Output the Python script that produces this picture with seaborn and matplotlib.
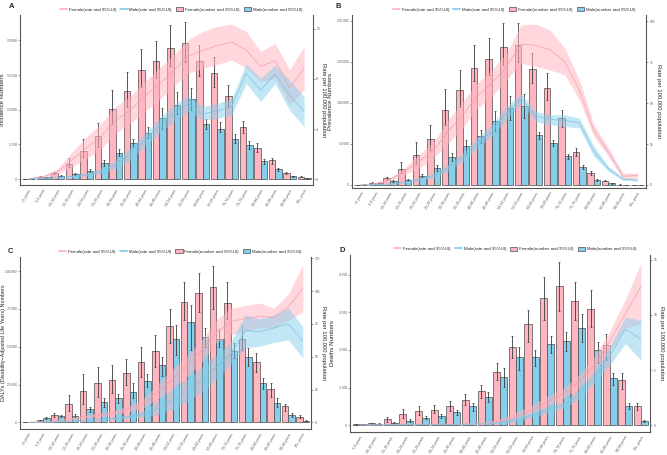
import numpy as np
import pandas as pd
import matplotlib
matplotlib.use("Agg")
import matplotlib.pyplot as plt
import seaborn as sns
from matplotlib.lines import Line2D
from matplotlib.patches import Patch
from matplotlib.ticker import FuncFormatter

# 연령 구간
ages = ["<5 years", "5-9 years", "10-14 years", "15-19 years", "20-24 years", "25-29 years",
        "30-34 years", "35-39 years", "40-44 years", "45-49 years", "50-54 years", "55-59 years",
        "60-64 years", "65-69 years", "70-74 years", "75-79 years", "80-84 years", "85-89 years",
        "90-94 years", "95+ years"]
ages_d = ages[1:]

# A. Incidence
inc_f = [50, 350, 900, 2150, 4000, 6150, 10050, 12750, 15700, 17000, 18850, 19600, 17000, 15250, 11950, 7500, 4560, 2700, 960, 380]
inc_f_lo = [20, 250, 750, 1800, 3150, 4650, 8000, 10450, 13350, 14550, 16350, 16850, 14850, 13350, 10400, 6600, 3950, 2200, 800, 250]
inc_f_hi = [90, 480, 1100, 3100, 5750, 8050, 12850, 15500, 18750, 19900, 22200, 22650, 19400, 17650, 13550, 8450, 5150, 3100, 1100, 500]
inc_m = [30, 290, 530, 770, 1250, 2300, 3750, 5250, 6700, 8850, 10750, 11500, 7900, 7300, 5850, 4950, 2600, 1440, 430, 100]
inc_m_lo = [10, 220, 430, 640, 1050, 1900, 3300, 4650, 6000, 7300, 9450, 9950, 7200, 6800, 5250, 4400, 2250, 1250, 360, 70]
inc_m_hi = [60, 380, 650, 920, 1480, 2750, 4300, 5850, 7550, 10200, 12500, 13100, 8600, 8200, 6450, 5550, 2950, 1650, 520, 140]
inc_rf = [0.05, 0.2, 0.6, 1.55, 2.5, 3.45, 4.7, 5.5, 6.6, 7.6, 8.65, 9.8, 10.3, 10.65, 10.95, 10.3, 9.0, 9.45, 7.3, 8.85]
inc_rf_lo = [0.02, 0.12, 0.4, 0.99, 1.65, 2.45, 3.65, 4.45, 5.39, 6.32, 7.39, 8.45, 8.85, 9.15, 9.52, 8.85, 7.79, 8.05, 5.92, 7.12]
inc_rf_hi = [0.09, 0.3, 0.85, 2.19, 3.39, 4.45, 5.79, 6.59, 7.79, 8.85, 9.92, 11.12, 11.79, 12.19, 12.37, 11.79, 10.19, 10.85, 8.72, 10.59]
inc_rm = [0.03, 0.08, 0.15, 0.22, 0.35, 0.65, 1.2, 2.0, 3.1, 4.25, 5.25, 6.05, 5.2, 5.45, 5.8, 8.45, 7.1, 8.4, 6.7, 5.4]
inc_rm_lo = [0.01, 0.05, 0.1, 0.15, 0.25, 0.45, 0.85, 1.5, 2.6, 3.65, 4.6, 5.4, 4.7, 4.85, 5.1, 7.65, 6.2, 7.65, 5.5, 4.2]
inc_rm_hi = [0.05, 0.12, 0.2, 0.3, 0.5, 0.85, 1.5, 2.45, 3.65, 4.85, 5.9, 6.7, 5.8, 6.05, 6.45, 9.2, 8.05, 9.1, 7.9, 6.6]

# B. Prevalence
prev_f = [300, 2800, 8100, 19400, 36400, 55500, 91100, 115800, 142100, 153000, 167600, 170400, 140900, 117800, 81400, 40100, 14600, 5300, 400, 100]
prev_f_lo = [150, 2000, 6500, 14200, 25100, 42900, 73300, 94700, 127100, 134000, 146200, 150200, 123900, 103600, 70000, 35600, 12600, 4300, 250, 50]
prev_f_hi = [450, 4000, 9800, 27900, 51800, 72900, 116600, 140100, 170000, 178500, 196800, 196800, 161100, 136000, 91500, 44900, 16600, 6400, 550, 150]
prev_m = [100, 2400, 4500, 6100, 11300, 20600, 34000, 47400, 59500, 77700, 93500, 96000, 60700, 50600, 34800, 21900, 6500, 2000, 100, 50]
prev_m_lo = [50, 1800, 3700, 5100, 9300, 17000, 28700, 38100, 51000, 65200, 78500, 81400, 55900, 47000, 31600, 19800, 4500, 1500, 50, 20]
prev_m_hi = [150, 3000, 5400, 7200, 13800, 24700, 38900, 54300, 66400, 89500, 107700, 110500, 64800, 54300, 37700, 23900, 7300, 2500, 200, 80]
prev_rf = [0.1, 0.8, 3.4, 8.3, 14.4, 21.5, 32.7, 42.9, 54.6, 62.2, 72.4, 86.0, 85.4, 82.5, 75.4, 58.0, 33.2, 20.0, 5.3, 5.8]
prev_rf_lo = [0.0, 0.5, 2.3, 6.3, 10.4, 16.5, 25.6, 34.8, 47.0, 54.1, 64.2, 74.4, 72.4, 70.3, 67.3, 52.0, 29.7, 17.5, 3.3, 4.3]
prev_rf_hi = [0.2, 1.2, 4.5, 10.4, 18.5, 26.6, 39.8, 51.0, 62.2, 70.3, 80.5, 97.8, 98.4, 94.7, 83.5, 64.2, 36.8, 22.6, 7.3, 7.3]
prev_rm = [0.05, 0.2, 0.6, 1.7, 3.2, 5.8, 10.4, 17.0, 25.6, 33.0, 44.0, 53.0, 42.0, 40.0, 39.5, 38.0, 20.5, 9.8, 3.5, 3.0]
prev_rm_lo = [0.0, 0.1, 0.3, 1.2, 2.2, 4.3, 8.3, 14.4, 22.6, 29.7, 39.8, 50.0, 38.8, 36.8, 35.8, 34.8, 17.5, 8.3, 2.8, 2.2]
prev_rm_hi = [0.1, 0.4, 0.9, 2.2, 4.3, 7.3, 12.4, 19.5, 28.7, 36.8, 48.0, 56.0, 45.0, 42.9, 42.9, 40.9, 23.6, 11.4, 4.3, 3.7]

# C. DALYs
daly_f = [200, 1300, 4800, 12100, 20700, 25800, 28000, 32400, 39600, 47400, 63700, 79500, 85500, 89200, 79100, 55300, 40100, 21800, 10800, 3700]
daly_f_lo = [100, 800, 3300, 7700, 12100, 17000, 19200, 24700, 30200, 36800, 52600, 67600, 73100, 74700, 68100, 47800, 33500, 17000, 7700, 2900]
daly_f_hi = [300, 1900, 6400, 18000, 31900, 36800, 37700, 41900, 49600, 57700, 74900, 92500, 98500, 103300, 92500, 63700, 45600, 25800, 12100, 5100]
daly_m = [100, 2600, 4200, 4400, 8800, 13200, 15900, 20300, 27300, 37900, 55100, 66100, 56200, 55300, 47400, 43400, 25800, 13000, 4800, 900]
daly_m_lo = [50, 2000, 3300, 3300, 7000, 10400, 12600, 15900, 23600, 30600, 44500, 47800, 49600, 49600, 42300, 37200, 21800, 10400, 3700, 400]
daly_m_hi = [150, 3300, 5100, 5500, 10400, 16100, 18700, 25800, 31900, 42900, 64300, 77500, 62100, 61500, 52200, 48900, 29100, 16300, 5900, 1300]
daly_rf = [0.1, 0.4, 1.2, 2.8, 4.5, 5.8, 7.5, 10.5, 15.0, 24.0, 33.0, 43.0, 55.0, 68.0, 77.0, 79.0, 81.0, 80.0, 88.0, 102.0]
daly_rf_lo = [0.05, 0.2, 0.8, 2.0, 3.3, 4.4, 5.8, 8.2, 11.5, 18.0, 26.0, 35.0, 46.0, 61.0, 67.0, 69.0, 72.0, 72.0, 78.0, 84.0]
daly_rf_hi = [0.15, 0.6, 1.6, 3.6, 5.7, 7.3, 9.3, 12.8, 18.5, 30.0, 41.0, 51.0, 63.0, 78.0, 87.0, 89.0, 91.0, 87.0, 98.0, 120.0]
daly_rm = [0.05, 0.2, 0.5, 0.9, 1.5, 2.3, 3.2, 4.5, 6.5, 11.0, 17.0, 24.0, 32.0, 42.0, 52.0, 70.0, 69.0, 72.0, 75.0, 62.0]
daly_rm_lo = [0.02, 0.1, 0.3, 0.6, 1.0, 1.5, 2.2, 3.0, 4.2, 6.0, 10.0, 16.0, 23.0, 33.0, 44.0, 57.0, 58.0, 61.0, 63.0, 49.0]
daly_rm_hi = [0.08, 0.3, 0.7, 1.2, 2.0, 3.1, 4.3, 6.0, 9.0, 17.0, 26.0, 33.0, 42.0, 51.0, 61.0, 82.0, 79.0, 82.0, 87.0, 73.0]

# D. Deaths (5-9세부터)
death_f = [20, 45, 150, 285, 375, 400, 500, 670, 900, 1420, 2090, 2680, 3380, 3690, 3300, 3090, 2130, 1200, 500]
death_f_lo = [10, 30, 90, 180, 270, 310, 370, 530, 730, 1200, 1780, 2220, 2800, 3040, 2800, 2620, 1730, 960, 400]
death_f_hi = [30, 65, 220, 430, 510, 530, 640, 820, 1080, 1640, 2380, 3070, 3930, 4340, 3800, 3590, 2430, 1380, 580]
death_m = [25, 35, 60, 120, 200, 240, 340, 500, 760, 1290, 1800, 1810, 2150, 2230, 2590, 2000, 1250, 520, 105]
death_m_lo = [15, 25, 45, 95, 160, 190, 270, 370, 620, 1020, 1470, 1560, 1910, 1960, 2220, 1640, 1080, 430, 70]
death_m_hi = [35, 50, 80, 150, 240, 290, 400, 600, 890, 1510, 2070, 1990, 2360, 2470, 2950, 2200, 1390, 580, 140]
death_rf = [0.02, 0.03, 0.05, 0.07, 0.08, 0.09, 0.1, 0.12, 0.18, 0.38, 0.78, 1.38, 2.1, 2.85, 3.9, 5.45, 7.6, 10.1, 12.6]
death_rf_lo = [0.01, 0.02, 0.03, 0.05, 0.06, 0.07, 0.08, 0.09, 0.1, 0.2, 0.45, 1.0, 1.7, 2.4, 3.3, 4.7, 6.7, 8.8, 9.2]
death_rf_hi = [0.03, 0.04, 0.07, 0.09, 0.1, 0.11, 0.13, 0.16, 0.25, 0.6, 1.15, 1.8, 2.6, 3.3, 4.5, 6.2, 8.5, 11.4, 14.7]
death_rm = [0.02, 0.03, 0.04, 0.05, 0.06, 0.07, 0.08, 0.1, 0.14, 0.24, 0.48, 0.92, 1.38, 1.8, 2.7, 4.3, 6.25, 8.7, 7.8]
death_rm_lo = [0.01, 0.02, 0.03, 0.04, 0.05, 0.05, 0.06, 0.07, 0.1, 0.1, 0.24, 0.67, 1.06, 1.5, 2.3, 3.8, 5.45, 7.4, 5.9]
death_rm_hi = [0.03, 0.04, 0.05, 0.06, 0.07, 0.09, 0.1, 0.13, 0.18, 0.36, 0.76, 1.2, 1.7, 2.1, 3.2, 4.85, 7.1, 9.8, 9.5]

PINK = "#FFB6C1"
BLUE = "#87CEEB"
PINK_LINE = "#F2A0B0"
BLUE_LINE = "#7CC3E0"
AXC = "#555555"

sns.set_style("white")
plt.rcParams['font.family'] = ['Liberation Sans', 'DejaVu Sans']

space_fmt = FuncFormatter(lambda v, p: f"{int(round(v)):,}".replace(",", " "))


def draw_panel(ax, labels, f, f_lo, f_hi, m, m_lo, m_hi, rf, rf_lo, rf_hi, rm, rm_lo, rm_hi,
               ylabel, ylim, rlim, yticks, rticks, lab_x, rlab_x, lab_size=4.4):
    n = len(labels)
    df = pd.DataFrame({'age': labels * 2, 'val': f + m, 'sex': ['Female'] * n + ['Male'] * n})

    # 막대 (건수)
    sns.barplot(data=df, x='age', y='val', hue='sex', hue_order=['Female', 'Male'],
                palette=[PINK, BLUE], saturation=1, edgecolor='#4a4a4a', linewidth=0.5,
                width=0.9, errorbar=None, legend=False, ax=ax)
    for cont, v, lo, hi in zip(ax.containers, [f, m], [f_lo, m_lo], [f_hi, m_hi]):
        xs = [b.get_x() + b.get_width() / 2 for b in cont]
        v = np.array(v)
        ax.errorbar(xs, v, yerr=[v - np.array(lo), np.array(hi) - v], fmt='none',
                    ecolor='#3a3a3a', elinewidth=0.6, capsize=0.9, capthick=0.5, zorder=3)

    # 선 + 리본 (율)
    ax2 = ax.twinx()
    x = np.arange(n)
    ax2.fill_between(x, rf_lo, rf_hi, color=PINK, alpha=0.55, linewidth=0)
    ax2.fill_between(x, rm_lo, rm_hi, color=BLUE, alpha=0.5, linewidth=0)
    sns.lineplot(x=x, y=rf, color=PINK_LINE, linewidth=0.5, ax=ax2)
    sns.lineplot(x=x, y=rm, color=BLUE_LINE, linewidth=0.5, ax=ax2)

    ax.set_xlim(-0.6, n - 0.4)
    ax.set_ylim(*ylim)
    ax2.set_ylim(*rlim)
    ax.set_yticks(yticks)
    ax2.set_yticks(rticks)
    ax.yaxis.set_major_formatter(space_fmt)
    ax.set_xticks(x)
    ax.set_xticklabels(labels, rotation=60, ha='right', rotation_mode='anchor')
    ax.set_xlabel('')
    ax.set_ylabel(ylabel, fontsize=lab_size)
    ax.yaxis.set_label_coords(lab_x, 0.5)
    ax2.set_ylabel('Rate per 100,000 population', fontsize=4.2, rotation=270, va='center')
    ax2.yaxis.set_label_coords(rlab_x, 0.5)

    for a in (ax, ax2):
        a.tick_params(axis='both', labelsize=2.3, length=1.5, width=0.4, colors=AXC, pad=1)
        for s in a.spines.values():
            s.set_visible(False)
    ax.tick_params(axis='x', labelsize=2.5)
    ax.spines['left'].set_visible(True)
    ax.spines['bottom'].set_visible(True)
    ax2.spines['right'].set_visible(True)
    for s in (ax.spines['left'], ax.spines['bottom'], ax2.spines['right']):
        s.set_color(AXC)
        s.set_linewidth(0.8)

    handles = [Line2D([0], [0], color=PINK, lw=1.3),
               Line2D([0], [0], color=BLUE, lw=1.3),
               Patch(facecolor=PINK, edgecolor='#4a4a4a', linewidth=0.5),
               Patch(facecolor=BLUE, edgecolor='#4a4a4a', linewidth=0.5)]
    names = ['Female(rate and 95%UI)', 'Male(rate and 95%UI)',
             'Female(number and 95%UI)', 'Male(number and 95%UI)']
    ax.legend(handles, names, loc='lower center', bbox_to_anchor=(0.55, 1.01), ncol=4,
              frameon=False, fontsize=3.2, handlelength=1.6, handleheight=1.0,
              columnspacing=1.0, handletextpad=0.4, borderaxespad=0)
    return ax2


fig = plt.figure(figsize=(6.67, 4.55), dpi=100)

axA = fig.add_axes([0.030, 0.593, 0.439, 0.374])
axB = fig.add_axes([0.528, 0.587, 0.441, 0.380])
axC = fig.add_axes([0.030, 0.057, 0.437, 0.378])
axD = fig.add_axes([0.525, 0.051, 0.450, 0.389])

draw_panel(axA, ages, inc_f, inc_f_lo, inc_f_hi, inc_m, inc_m_lo, inc_m_hi,
           inc_rf, inc_rf_lo, inc_rf_hi, inc_rm, inc_rm_lo, inc_rm_hi,
           'Incidence Numbers', (-865, 23650), (-0.48, 13.1),
           [0, 5000, 10000, 15000, 20000], [0, 4, 8, 12], -0.052, 1.035)
draw_panel(axB, ages, prev_f, prev_f_lo, prev_f_hi, prev_m, prev_m_lo, prev_m_hi,
           prev_rf, prev_rf_lo, prev_rf_hi, prev_rm, prev_rm_lo, prev_rm_hi,
           'Prevalence Numbers', (-3640, 206900), (-1.83, 103.9),
           [0, 50000, 100000, 150000, 200000], [0, 25, 50, 75, 100], -0.066, 1.04)
draw_panel(axC, ages, daly_f, daly_f_lo, daly_f_hi, daly_m, daly_m_lo, daly_m_hi,
           daly_rf, daly_rf_lo, daly_rf_hi, daly_rm, daly_rm_lo, daly_rm_hi,
           "DALYs (Disability\u2212Adjusted Life Years) Numbers", (-4400, 109250), (-5.1, 126),
           [0, 25000, 50000, 75000, 100000], [0, 25, 50, 75, 100, 125], -0.048, 1.04,
           lab_size=3.9)
draw_panel(axD, ages_d, death_f, death_f_lo, death_f_hi, death_m, death_m_lo, death_m_hi,
           death_rf, death_rf_lo, death_rf_hi, death_rm, death_rm_lo, death_rm_hi,
           'Deaths Numbers', (-178, 4533), (-0.6, 15.45),
           [0, 1000, 2000, 3000, 4000], [0, 5, 10, 15], -0.05, 1.037)

# 패널 라벨
for lab, (px, py) in zip('ABCD', [(9, 6), (336, 6), (8, 251), (339, 250)]):
    fig.text(px / 667, 1 - py / 455, lab, fontsize=5.5, fontweight='bold', va='center', ha='left')

plt.savefig('out.png', dpi=100, facecolor='white')
